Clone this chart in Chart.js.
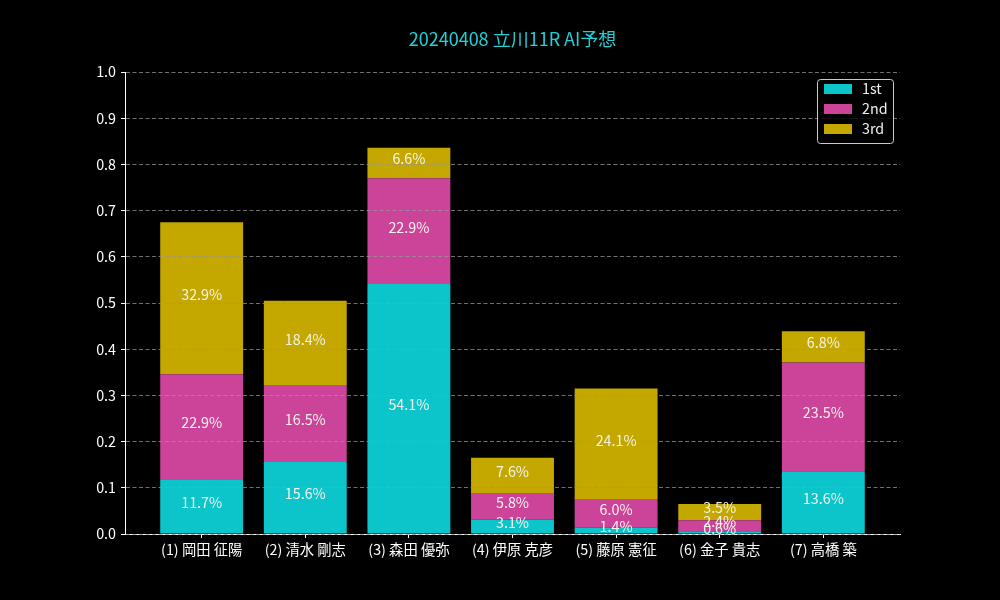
<!DOCTYPE html>
<html><head><meta charset="utf-8">
<script src="https://cdn.jsdelivr.net/npm/chart.js@4.4.0/dist/chart.umd.min.js"></script>
<style>html,body{margin:0;padding:0;background:#000;}#wrap{width:1000px;height:600px;}</style>
</head><body><div id="wrap"><canvas id="c" width="1000" height="600"></canvas></div>
<script>
const categories = ["(1) 岡田 征陽","(2) 清水 剛志","(3) 森田 優弥","(4) 伊原 克彦","(5) 藤原 憲征","(6) 金子 貴志","(7) 高橋 築"];
const first  = [0.117,0.156,0.541,0.031,0.014,0.006,0.136];
const second = [0.229,0.165,0.229,0.058,0.060,0.024,0.235];
const third  = [0.329,0.184,0.066,0.076,0.241,0.035,0.068];
const seriesNames = ["1st","2nd","3rd"];
const colors = ["#0bc5cb","#cc4499","#c4a800"];
const yTicks = [0,0.1,0.2,0.3,0.4,0.5,0.6,0.7,0.8,0.9,1.0];
const title = "20240408 立川11R AI予想";
const FONT = "'Noto Sans CJK JP','Noto Sans',sans-serif";

const toPts = arr => arr.map((v,i)=>({x:i,y:v}));
const series = [first,second,third];

const bgPlugin = {id:'bg', beforeDraw(chart){const c=chart.ctx;c.save();c.fillStyle='#000';c.fillRect(0,0,chart.width,chart.height);c.restore();}};
const labelPlugin = {id:'labels', afterDraw(chart){
  const c=chart.ctx;c.save();c.font='14.3px '+FONT;c.fillStyle='#f2f2ea';c.textAlign='center';c.textBaseline='middle';
  chart.data.datasets.forEach((ds,di)=>{
    const meta=chart.getDatasetMeta(di);
    meta.data.forEach((bar,i)=>{
      const v=series[di][i];
      const yc=(bar.y+bar.base)/2;
      c.fillText((v*100).toFixed(1)+'%',bar.x,yc-4);
    });
  });
  // title
  const a=chart.chartArea;
  c.font='18px '+FONT;c.fillStyle='#22d0d6';
  c.fillText(title,(a.left+a.right)/2,39);
  // legend
  const lx=817,ly=79,lw=76,lh=64;
  c.fillStyle='rgba(0,0,0,0.8)';c.strokeStyle='#cccccc';c.lineWidth=1;
  c.beginPath();c.roundRect(lx+0.5,ly+0.5,lw,lh,3);c.fill();c.stroke();
  c.font='14.3px '+FONT;c.textAlign='left';
  seriesNames.forEach((n,k)=>{
    const y=ly+10+k*20;
    c.fillStyle=colors[k];c.fillRect(lx+7,y-5,28,10);
    c.fillStyle='#f0f0f0';c.fillText(n,lx+45,y);
  });
  c.restore();
}};

new Chart(document.getElementById('c'),{
  type:'bar',
  data:{datasets:series.map((s,k)=>({label:seriesNames[k],data:toPts(s),backgroundColor:colors[k],borderWidth:0,barPercentage:0.8,categoryPercentage:1}))},
  options:{
    responsive:false,animation:false,
    layout:{padding:{top:72,right:100,left:0,bottom:0}},
    plugins:{legend:{display:false},tooltip:{enabled:false},title:{display:false}},
    scales:{
      x:{type:'linear',stacked:true,min:-0.74,max:6.74,offset:false,
        afterBuildTicks(s){s.ticks=categories.map((_,i)=>({value:i}));},
        afterFit(s){s.height=66;},
        ticks:{color:'#ffffff',font:{size:14.3,family:FONT},padding:3,autoSkip:false,maxRotation:0,callback:(v)=>categories[v]},
        grid:{drawOnChartArea:false,offset:false,tickColor:'#ffffff',tickLength:4},
        border:{color:'#ffffff',width:1}},
      y:{stacked:true,min:0,max:1,
        afterBuildTicks(s){s.ticks=yTicks.map(v=>({value:v}));},
        afterFit(s){s.width=125;},
        ticks:{color:'#ffffff',font:{size:14.3,family:FONT},padding:5,callback:(v)=>Number(v).toFixed(1)},
        grid:{color:'rgba(150,150,150,0.75)',lineWidth:1,tickColor:'#ffffff',tickLength:4,tickBorderDash:[],z:1},
        border:{color:'#ffffff',width:1,dash:[4,2.5],z:1}}
    }
  },
  plugins:[bgPlugin,labelPlugin]
});
</script></body></html>
